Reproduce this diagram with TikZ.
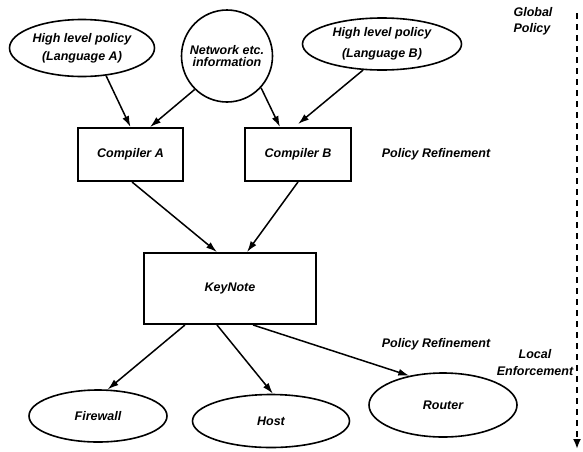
\documentclass[tikz,border=0pt]{standalone}
\usepackage{fontspec}
\setsansfont{Liberation Sans}
\usetikzlibrary{
  shapes,
  arrows.meta,
  shapes.geometric,
  positioning,
}
\tikzstyle{policy} = [
ellipse,
draw,
line width=1.6pt,
align=center,
inner sep=0pt
]
\tikzstyle{stage} = [
rectangle,
draw,
line width=1.9pt,
align=center
]
\tikzstyle{remark} = [
align=center
]
\tikzstyle{arrow} = [draw, line width=1.5pt, -{Latex[length=11pt,width=7pt]}]
\tikzstyle{timeline} = [draw, line width=2pt, dash pattern=on 6pt off 5pt, -{Latex[length=10pt,width=8pt]}]

\begin{document}
\begin{tikzpicture}[on grid, auto, font=\sffamily\bfseries\itshape\fontsize{12.5}{14}\selectfont]
  \useasboundingbox (-82pt,48pt) rectangle (501pt,-403pt);
  % Place nodes
  \node [policy, minimum width=145pt, minimum height=57pt] (hlpA) {High level policy\\[4pt](Language A)};
  \node [policy, inner xsep=-6pt, minimum width=91pt, minimum height=92pt, below right=8pt and 145pt of hlpA] (net) {Network etc.\\[-2pt]information};
  \node [policy, minimum width=159pt, minimum height=52pt, above right=12pt and 155pt of net] (hlpB) {High level policy\\[7pt](Language B)};

  \node [stage, minimum width=105pt, minimum height=53pt, below right=106.5pt and 48.5pt of hlpA] (compA) {Compiler A};
  \node [stage, minimum width=106pt, minimum height=53pt, right=167.5pt of compA] (compB) {Compiler B};
  \node [stage, minimum width=172pt, minimum height=71pt, below right=134pt and 99.5pt of compA] (keynote) {KeyNote};

  \node [policy, minimum width=138pt, minimum height=52pt, below left=127.5pt and 132pt of keynote] (firewall) {Firewall};
  \node [policy, minimum width=157pt, minimum height=53pt, below right=132.5pt and 41pt of keynote] (host) {Host};
  \node [policy, minimum width=148pt, minimum height=64pt, below right=116.5pt and 213pt of keynote] (router) {Router};

  \node [remark, right=138pt of compB] (refineTop) {Policy Refinement};
  \node [remark, below right=55.5pt and 206pt of keynote] (refineLow) {Policy Refinement};
  \node [remark, align=left, above right=23pt and 151pt of hlpB] (global) {Global\\[2pt]Policy};
  \node [remark, above right=42pt and 92pt of router] (local) {Local\\[3pt]Enforcement};
  \coordinate [above right=8pt and 44pt of global] (axisTop);
  \coordinate [below=436pt of axisTop] (axisEnd);

  % Draw edges
  \path [arrow] (hlpA.-49) -- (compA.north);
  \path [arrow] (net.-134) -- ([xshift=19.5pt]compA.north);
  \path [arrow] (net.-43) -- ([xshift=-18pt]compB.north);
  \path [arrow] (hlpB.-126) -- ([yshift=3pt]compB.north);

  \path [arrow] ([xshift=1.5pt]compA.south) -- ([xshift=-13pt]keynote.north);
  \path [arrow] (compB.south) -- ([xshift=17pt]keynote.north);

  \path [arrow] ([xshift=-45pt]keynote.south) -- (firewall.70);
  \path [arrow] ([xshift=-13pt]keynote.south) -- (host.86);
  \path [arrow] ([xshift=23pt]keynote.south) -- (router.139);

  \path [timeline] (axisTop) -- (axisEnd);
\end{tikzpicture}
\end{document}
